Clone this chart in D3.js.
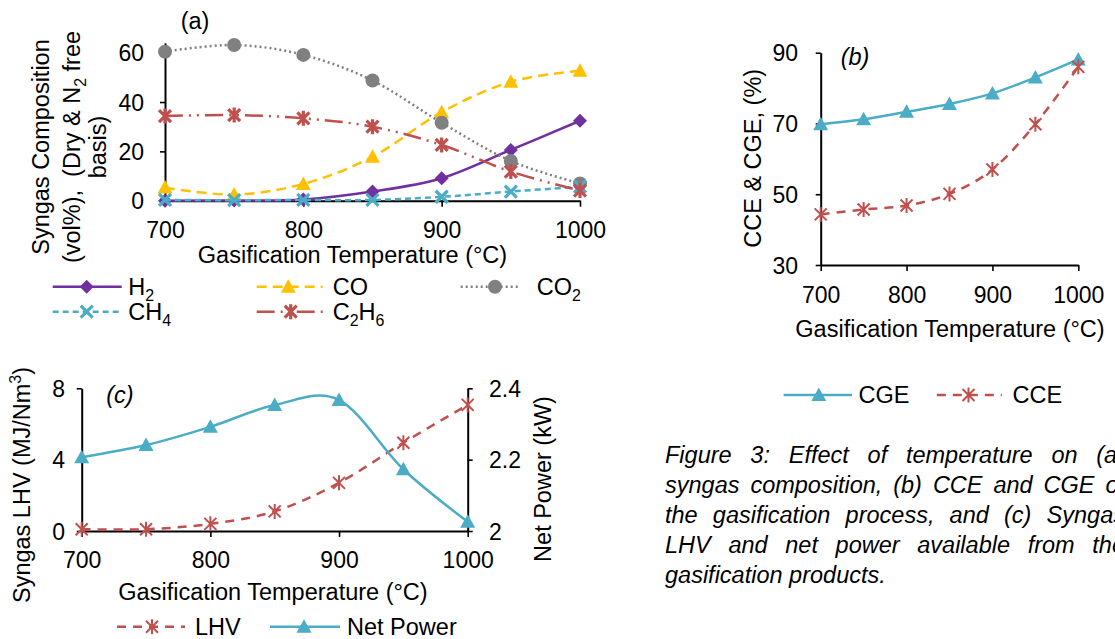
<!DOCTYPE html>
<html><head><meta charset="utf-8">
<script src="https://cdn.jsdelivr.net/npm/d3@7"></script>
<style>
body{margin:0;background:#fff;}
svg{display:block;font-family:"Liberation Sans",Arial,sans-serif;}
</style></head><body>
<svg id="fig" width="1115" height="639"></svg>
<script>
// ---------- data ----------
const temps = [700, 750, 800, 850, 900, 950, 1000];
const xTickValues = [700, 800, 900, 1000];

// (a) syngas composition, vol%
const h2   = [0.0, 0.1, 0.5, 3.7, 9.1, 20.6, 32.4];
const co   = [5.3, 2.5, 6.8, 17.8, 35.9, 48.2, 52.7];
const co2  = [60.4, 63.1, 59.1, 48.7, 31.6, 16.1, 7.0];
const ch4  = [0.3, 0.2, 0.3, 0.3, 1.6, 3.7, 5.7];
const c2h6 = [34.3, 34.7, 33.4, 30.0, 22.6, 11.8, 4.1];
const ticksA = [0, 20, 40, 60];

// (b) efficiencies, %
const cge = [69.8, 71.2, 73.3, 75.5, 78.5, 83.0, 88.1];
const cce = [44.3, 45.7, 46.8, 50.1, 57.0, 69.8, 86.0];
const ticksB = [30, 50, 70, 90];

// (c) LHV (MJ/Nm3) and net power (kW)
const lhv      = [0.1, 0.1, 0.4, 1.1, 2.7, 4.95, 7.07];
const netPower = [2.207, 2.241, 2.292, 2.353, 2.367, 2.173, 2.026];
const ticksCL = [0, 4, 8];
const ticksCR = [2, 2.2, 2.4];

const captionLines = [
  "Figure 3: Effect of temperature on (a)",
  "syngas composition, (b) CCE and CGE of",
  "the gasification process, and (c) Syngas",
  "LHV and net power available from the",
  "gasification products."
];

// ---------- helpers ----------
const FONT = '"Liberation Sans", Arial, sans-serif';
const FS = 23.5, TFS = 23;
const svg = d3.select("#fig");
const curve = d3.curveCatmullRom.alpha(0);

const SHAPES = {
  diamond: "M0,-7L7,0L0,7L-7,0Z",
  triangle: "M0,-7.5L7.5,6L-7.5,6Z",
  circle: d3.symbol(d3.symbolCircle, Math.PI * 49)(),
  x: "M-6,-6L6,6M-6,6L6,-6",
  star: "M-6,-6L6,6M-6,6L6,-6M0,-7.5L0,7.5",
  starBold: "M-6,-6L6,6M-6,6L6,-6M0,-7.5L0,7.5"
};
function markerStyle(sel, type, color) {
  if (type === "x" || type === "starBold") {
    sel.attr("fill", "none").attr("stroke", color).attr("stroke-width", 3.2);
  } else if (type === "star") {
    sel.attr("fill", "none").attr("stroke", color).attr("stroke-width", 2);
  } else {
    sel.attr("fill", color).attr("stroke", "none");
  }
  return sel;
}

function drawSeries(g, xs, ys, vals, s) {
  const line = d3.line().x((d, i) => xs(temps[i])).y(d => ys(d)).curve(curve);
  g.append("path").datum(vals).attr("d", line)
    .attr("fill", "none").attr("stroke", s.color).attr("stroke-width", 2.5)
    .attr("stroke-dasharray", s.dash || null);
  markerStyle(g.selectAll(null).data(vals).join("path")
    .attr("transform", (d, i) => `translate(${xs(temps[i])},${ys(d)})`)
    .attr("d", SHAPES[s.marker]), s.marker, s.color);
}

// parts: array of [text, kind] where kind in "n","sub","sup"
function addParts(t, parts) {
  const base = 0.35 * FS;
  let shift = 0;
  parts.forEach(([txt, kind], k) => {
    const target = kind === "sub" ? 6 : kind === "sup" ? -9 : 0;
    const ts = t.append("tspan").text(txt).attr("dy", (k === 0 ? base : 0) + target - shift);
    if (kind !== "n") ts.attr("font-size", FS * 0.68);
    shift = target;
  });
}

function legendItem(g, x1, x2, xm, xt, y, s, parts) {
  g.append("line").attr("x1", x1).attr("x2", x2).attr("y1", y).attr("y2", y)
    .attr("stroke", s.color).attr("stroke-width", 2.5).attr("stroke-dasharray", s.dash || null);
  markerStyle(g.append("path").attr("transform", `translate(${xm},${y})`).attr("d", SHAPES[s.marker]), s.marker, s.color);
  const t = g.append("text").attr("x", xt).attr("y", y).attr("font-size", FS);
  addParts(t, parts);
}

function styleAxis(g) {
  g.attr("font-family", FONT).attr("font-size", TFS);
  g.select("path.domain").attr("stroke", "#000").attr("stroke-width", 2);
  g.selectAll(".tick line").attr("stroke", "#000").attr("stroke-width", 1.6);
  g.selectAll(".tick text").attr("fill", "#000");
}
function xAxis(g, xs, yPos, labelOffset) {
  const ax = g.append("g").attr("transform", `translate(0,${yPos})`)
    .call(d3.axisBottom(xs).tickValues(xTickValues).tickSize(6).tickSizeOuter(0).tickFormat(d3.format("d")));
  styleAxis(ax);
  ax.selectAll(".tick text").attr("y", labelOffset).attr("dy", "0.35em");
}
function yAxis(g, ys, xPos, ticks, labelEnd) {
  const ax = g.append("g").attr("transform", `translate(${xPos},0)`)
    .call(d3.axisLeft(ys).tickValues(ticks).tickSize(5).tickSizeOuter(0).tickFormat(d3.format("d")));
  styleAxis(ax);
  ax.selectAll(".tick text").attr("x", labelEnd - xPos).attr("dy", "0.35em");
}
function rotText(g, x, y, parts) {
  const t = g.append("text").attr("transform", `translate(${x},${y}) rotate(-90)`)
    .attr("text-anchor", "middle").attr("font-size", FS);
  addParts(t, parts);
  return t;
}
function plainText(g, x, y, txt, opts = {}) {
  return g.append("text").attr("x", x).attr("y", y).attr("dy", "0.35em")
    .attr("font-size", opts.size || FS).attr("text-anchor", opts.anchor || "middle")
    .attr("font-style", opts.italic ? "italic" : null).text(txt);
}

// ---------- (a) ----------
{
  const g = svg.append("g");
  const xs = d3.scaleLinear().domain([700, 1000]).range([165, 580]);
  const ys = d3.scaleLinear().domain([0, 64]).range([200.7, 200.7 - 64 * 2.467]);
  xAxis(g, xs, ys(0), 29.3);
  yAxis(g, ys, xs(700), ticksA, 144);
  const series = [
    { vals: h2, color: "#7030A0", dash: null, marker: "diamond", parts: [["H", "n"], ["2", "sub"]] },
    { vals: co, color: "#FFC000", dash: "10,6", marker: "triangle", parts: [["CO", "n"]] },
    { vals: co2, color: "#808080", dash: "2,3", marker: "circle", parts: [["CO", "n"], ["2", "sub"]] },
    { vals: ch4, color: "#4BACC6", dash: "6,4", marker: "x", parts: [["CH", "n"], ["4", "sub"]] },
    { vals: c2h6, color: "#C0504D", dash: "18,6,2,6,2,6", marker: "starBold", parts: [["C", "n"], ["2", "sub"], ["H", "n"], ["6", "sub"]] }
  ];
  series.forEach(s => drawSeries(g, xs, ys, s.vals, s));
  const lg = g.append("g");
  legendItem(lg, 52.7, 121.7, 86.7, 128.3, 286.7, series[0], series[0].parts);
  legendItem(lg, 256.7, 322.7, 288.3, 332.7, 286.7, series[1], series[1].parts);
  legendItem(lg, 460.7, 520, 495, 536.7, 286.7, series[2], series[2].parts);
  legendItem(lg, 52.7, 121.7, 86.7, 128.3, 311.7, series[3], series[3].parts);
  legendItem(lg, 256.7, 326.7, 290.7, 332.7, 311.7, series[4], series[4].parts);
  plainText(g, 352.5, 255, "Gasification Temperature (°C)");
  plainText(g, 195, 21, "(a)");
  rotText(g, 41, 147, [["Syngas Composition", "n"]]);
  rotText(g, 72, 147, [["(vol%),\u00A0 (Dry & N", "n"], ["2", "sub"], [" free", "n"]]);
  rotText(g, 98, 147, [["basis)", "n"]]);
}

// ---------- (b) ----------
{
  const g = svg.append("g");
  const xs = d3.scaleLinear().domain([700, 1000]).range([820.7, 1078.3]);
  const ys = d3.scaleLinear().domain([30, 90]).range([265, 52.7]);
  xAxis(g, xs, ys(30), 30);
  yAxis(g, ys, xs(700), ticksB, 798);
  const sCGE = { color: "#4BACC6", dash: null, marker: "triangle" };
  const sCCE = { color: "#C0504D", dash: "9,7", marker: "star" };
  drawSeries(g, xs, ys, cge, sCGE);
  drawSeries(g, xs, ys, cce, sCCE);
  legendItem(g, 783.6, 852, 818.8, 858.6, 395, sCGE, [["CGE", "n"]]);
  legendItem(g, 936.8, 1001.9, 968.5, 1012.5, 395, sCCE, [["CCE", "n"]]);
  plainText(g, 950, 328.3, "Gasification Temperature (°C)");
  plainText(g, 855, 57, "(b)", { italic: true });
  rotText(g, 752.7, 158.3, [["CCE & CGE, (%)", "n"]]);
}

// ---------- (c) ----------
{
  const g = svg.append("g");
  const xs = d3.scaleLinear().domain([700, 1000]).range([81.7, 467.7]);
  const yl = d3.scaleLinear().domain([0, 8]).range([531, 388.3]);
  const yr = d3.scaleLinear().domain([2, 2.4]).range([531, 388.3]);
  xAxis(g, xs, yl(0), 29);
  yAxis(g, yl, xs(700), ticksCL, 65);
  const axr = g.append("g").attr("transform", `translate(${xs(1000)},0)`)
    .call(d3.axisRight(yr).tickValues(ticksCR).tickSize(5).tickSizeOuter(0).tickFormat(d => d === 2 ? "2" : d3.format(".1f")(d)));
  styleAxis(axr);
  axr.selectAll(".tick text").attr("x", 489 - xs(1000)).attr("dy", "0.35em");
  const sLHV = { color: "#C0504D", dash: "9,7", marker: "star" };
  const sNP = { color: "#4BACC6", dash: null, marker: "triangle" };
  drawSeries(g, xs, yl, lhv, sLHV);
  drawSeries(g, xs, yr, netPower, sNP);
  legendItem(g, 117, 185, 152, 195, 626.7, sLHV, [["LHV", "n"]]);
  legendItem(g, 270, 340, 304, 347, 626.7, sNP, [["Net Power", "n"]]);
  plainText(g, 273, 591.7, "Gasification Temperature (°C)");
  plainText(g, 120, 395, "(c)", { italic: true });
  rotText(g, 21.5, 485, [["Syngas LHV (MJ/Nm", "n"], ["3", "sup"], [")", "n"]]);
  rotText(g, 543, 479, [["Net Power (kW)", "n"]]);
}

// ---------- caption (justified) ----------
{
  const g = svg.append("g").attr("font-style", "italic").attr("font-size", FS);
  const L = 665, R = 1125, space = 0.278 * FS;
  captionLines.forEach((line, i) => {
    const y = 455 + i * 30;
    const words = line.split(" ");
    const els = words.map(w => g.append("text").attr("y", y).attr("dy", "0.35em").text(w));
    const widths = els.map(e => e.node().getComputedTextLength());
    const last = i === captionLines.length - 1;
    const gap = last ? space : (R - L - d3.sum(widths)) / (words.length - 1);
    let x = L;
    els.forEach((e, j) => { e.attr("x", x); x += widths[j] + gap; });
  });
}
</script></body></html>
